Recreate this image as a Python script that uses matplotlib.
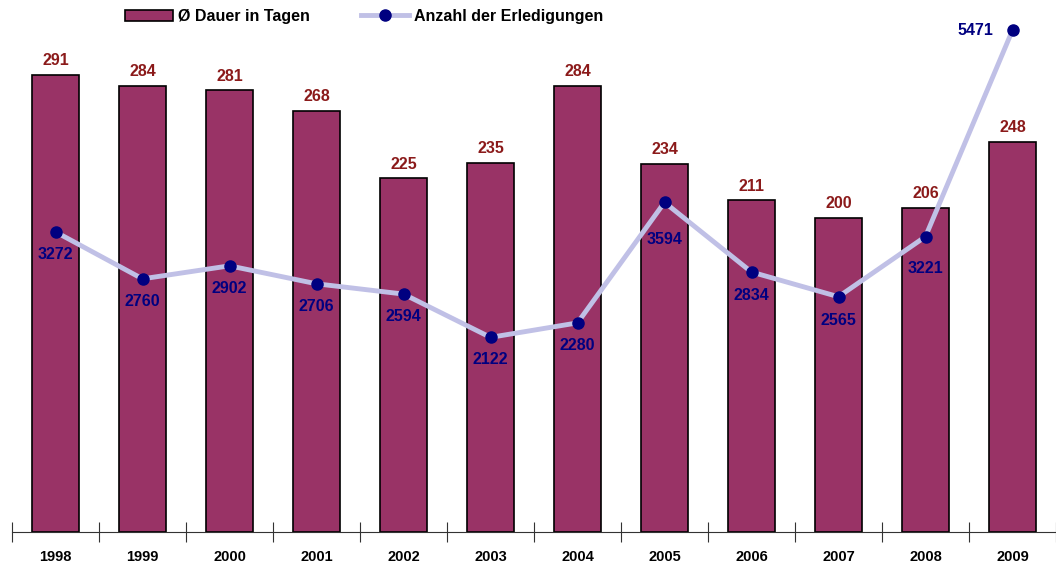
import matplotlib
matplotlib.use('Agg')
import matplotlib.pyplot as plt
from matplotlib.lines import Line2D
from matplotlib.patches import Patch

plt.rcParams['font.family'] = ['Liberation Sans', 'DejaVu Sans']

# data
years = ['1998', '1999', '2000', '2001', '2002', '2003',
         '2004', '2005', '2006', '2007', '2008', '2009']
dauer = [291, 284, 281, 268, 225, 235, 284, 234, 211, 200, 206, 248]
erledigungen = [3272, 2760, 2902, 2706, 2594, 2122, 2280, 3594, 2834, 2565, 3221, 5471]

bar_color = '#993366'
label_red = '#8b1a1a'
line_color = '#c0c0e6'
dot_color = '#000080'

fig = plt.figure(figsize=(10.56, 5.64), dpi=100)
ax = fig.add_axes([12 / 1056, 32 / 564, 1 - 12 / 1056, 532 / 564])
x = list(range(len(years)))

ax.bar(x, dauer, width=0.55, color=bar_color, edgecolor='black', linewidth=1.2, zorder=2)
for xi, v in zip(x, dauer):
    ax.annotate(str(v), (xi, v), xytext=(0, 5), textcoords='offset points',
                ha='center', va='bottom', color=label_red, fontsize=11.5, fontweight='bold')

ax.set_xlim(-0.5, len(years) - 0.5)
ax.set_ylim(0, 338.6)
ax.set_yticks([])
for s in ['left', 'right', 'top']:
    ax.spines[s].set_visible(False)
ax.spines['bottom'].set_color('#333333')
ax.set_xticks([i - 0.5 for i in range(len(years) + 1)])
ax.set_xticklabels([])
ax.set_xticks(x, minor=True)
ax.set_xticklabels(years, minor=True, fontsize=10.5, fontweight='bold')
ax.tick_params(axis='x', which='major', direction='inout', length=14, color='#333333')
ax.tick_params(axis='x', which='minor', length=0, pad=13)

ax2 = ax.twinx()
ax2.set_ylim(0, 5800)
ax2.set_yticks([])
for s in ax2.spines.values():
    s.set_visible(False)
ax2.plot(x, erledigungen, color=line_color, linewidth=3.5, zorder=3)
ax2.plot(x, erledigungen, 'o', color=dot_color, markersize=8, zorder=4)

# label offsets (points) below each marker; last one sits to the left
offsets = [(0, -16), (0, -16), (0, -16), (0, -16), (0, -16), (0, -16),
           (0, -16), (0, -27), (0, -17), (0, -17), (0, -23), (-27, 0)]
for xi, v, off in zip(x, erledigungen, offsets):
    ax2.annotate(str(v), (xi, v), xytext=off, textcoords='offset points',
                 ha='center', va='center', color=dot_color, fontsize=11.5, fontweight='bold')

handles = [Patch(facecolor=bar_color, edgecolor='black', linewidth=1.2),
           Line2D([], [], color=line_color, linewidth=3.5, marker='o',
                  markerfacecolor=dot_color, markeredgecolor=dot_color, markersize=8)]
fig.legend(handles, ['Ø Dauer in Tagen', 'Anzahl der Erledigungen'],
           loc='upper left', bbox_to_anchor=(0.105, 1.01), ncol=2, frameon=False,
           prop={'weight': 'bold', 'size': 11.5}, handlelength=3.0, handletextpad=0.3,
           columnspacing=3.2)

fig.savefig('out.png', dpi=100)
